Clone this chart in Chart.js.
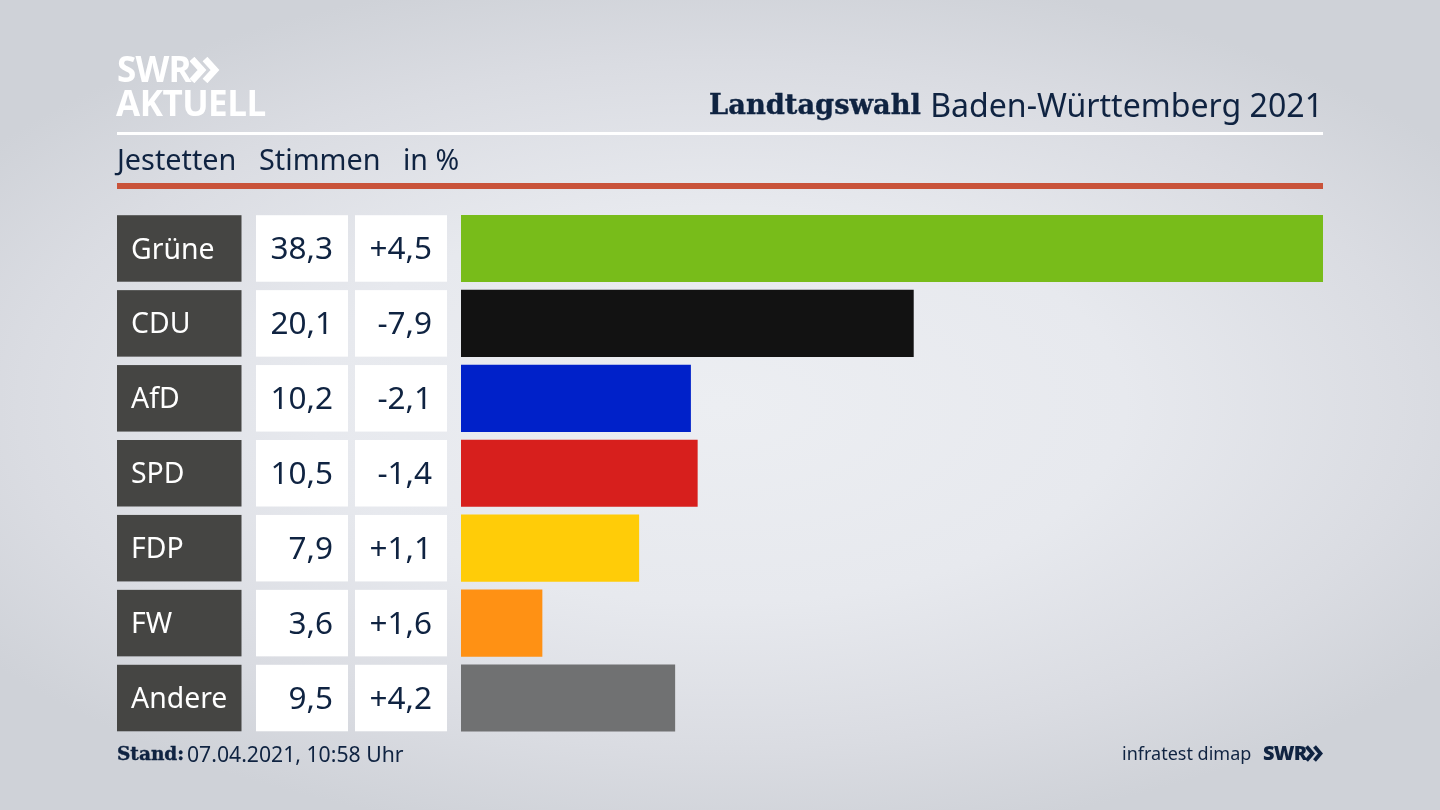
<!DOCTYPE html>
<html lang="de">
<head>
<meta charset="utf-8">
<title>Landtagswahl Baden-Württemberg 2021</title>
<script src="https://cdn.jsdelivr.net/npm/chart.js@4"></script>
<style>
    html, body { margin: 0; padding: 0; }
    body {
        width: 1440px; height: 810px; overflow: hidden; position: relative;
        background: radial-gradient(ellipse 900px 440px at 50% 50%, #eceef2 0%, #e7e9ee 45%, #dadce2 78%, #cfd2d8 100%);
        background-color: #cfd2d8;
        font-family: "Noto Sans", sans-serif; color: #0f2341;
    }
    canvas { position: absolute; left: 0; top: 0; }
    .t { position: absolute; white-space: nowrap; line-height: 1; }
    .rule { position: absolute; left: 117px; width: 1206px; }
    .logo { color: #fff; font-weight: 700; font-family: "Open Sans", sans-serif; }
    .slab { font-family: "DejaVu Serif", serif; font-weight: 700; -webkit-text-stroke: 0.4px #0f2341; }
</style>
</head>
<body>
<canvas id="resultChart" width="1440" height="810"></canvas>

<div class="t logo" style="left:117px;top:51px;font-size:35px;letter-spacing:-0.8px">SWR</div>
<svg style="position:absolute;left:190px;top:57px" width="30" height="26" fill="none" stroke="#fff" stroke-width="6.5">
    <polyline points="2,2 12,13 2,24"/><polyline points="15,2 25,13 15,24"/>
</svg>
<div class="t logo" style="left:116px;top:85px;font-size:35px;letter-spacing:-0.5px">AKTUELL</div>

<div class="t" style="left:709px;top:90px;font-size:27.3px"><span class="slab">Landtagswahl</span></div>
<div class="t" style="right:117px;top:89px;font-size:32.1px">Baden-Württemberg 2021</div>
<div class="rule" style="top:132px;height:3px;background:#fff"></div>

<div class="t" style="left:117px;top:145px;font-size:28.8px">Jestetten</div>
<div class="t" style="left:259px;top:145px;font-size:28.8px">Stimmen</div>
<div class="t" style="left:403px;top:145px;font-size:28.5px">in %</div>
<div class="rule" style="top:183px;height:6px;background:#c9533a"></div>

<div class="t" style="left:117px;top:744px;font-size:18.5px"><span class="slab">Stand:</span></div>
<div class="t" style="left:187px;top:743px;font-size:21.2px">07.04.2021, 10:58 Uhr</div>
<div class="t" style="left:1122px;top:744px;font-size:18px">infratest dimap</div>
<div class="t" style="left:1263px;top:743px;font-size:20px;font-weight:800;font-family:'Open Sans',sans-serif;letter-spacing:-0.8px">SWR</div>
<svg style="position:absolute;left:1305px;top:745px" width="19" height="17" fill="none" stroke="#0f2341" stroke-width="3.8">
    <polyline points="1.5,1.5 7.5,8.5 1.5,15.5"/><polyline points="9.5,1.5 15.5,8.5 9.5,15.5"/>
</svg>

<script>
// Ergebnisse Jestetten
const parties = ['Grüne', 'CDU', 'AfD', 'SPD', 'FDP', 'FW', 'Andere'];
const votes = [38.3, 20.1, 10.2, 10.5, 7.9, 3.6, 9.5];
const changes = ['+4,5', '-7,9', '-2,1', '-1,4', '+1,1', '+1,6', '+4,2'];
const barColors = ['#78bc1a', '#121212', '#0021c9', '#d71f1d', '#ffcc08', '#ff9114', '#707172'];

// Table cells left of the bars, drawn on the same rows as the y scale
const tableCells = {
    id: 'tableCells',
    afterDatasetsDraw(chart) {
        const ctx = chart.ctx;
        const yScale = chart.scales.y;
        const h = 66.5;
        ctx.save();
        ctx.textBaseline = 'middle';
        parties.forEach((party, i) => {
            const y = yScale.getPixelForValue(i);
            const top = y - h / 2;

            ctx.fillStyle = '#454543';
            ctx.fillRect(117, top, 124.5, h);
            ctx.fillStyle = '#ffffff';
            ctx.fillRect(256, top, 92, h);
            ctx.fillRect(355, top, 92, h);

            ctx.font = '28.4px "Noto Sans", sans-serif';
            ctx.textAlign = 'left';
            ctx.fillText(party, 131, y + 2);

            ctx.font = '31.5px "Noto Sans", sans-serif';
            ctx.fillStyle = '#0f2341';
            ctx.textAlign = 'right';
            ctx.fillText(votes[i].toFixed(1).replace('.', ','), 333, y + 1.5);
            ctx.fillText(changes[i], 432, y + 1.5);
        });
        ctx.restore();
    }
};

new Chart(document.getElementById('resultChart'), {
    type: 'bar',
    data: {
        labels: parties,
        datasets: [{
            data: votes,
            backgroundColor: barColors,
            borderWidth: 0,
            barThickness: 66.5
        }]
    },
    options: {
        indexAxis: 'y',
        responsive: false,
        animation: false,
        devicePixelRatio: 1,
        layout: {
            padding: { left: 461, right: 117, top: 211, bottom: 74.5 }
        },
        plugins: {
            legend: { display: false },
            tooltip: { enabled: false }
        },
        scales: {
            x: { display: false, min: 0, max: 38.3 },
            y: { display: false }
        }
    },
    plugins: [tableCells]
});
</script>
</body>
</html>
